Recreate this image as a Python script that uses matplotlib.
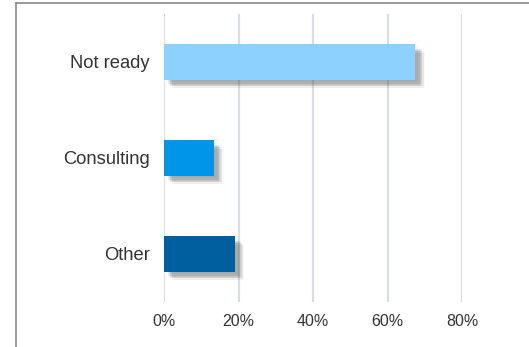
import matplotlib
matplotlib.use("Agg")
import matplotlib.pyplot as plt
from matplotlib import patheffects as pe
from matplotlib.lines import Line2D

categories = ["Not ready", "Consulting", "Other"]
values = [67.5, 13.4, 19.0]
colors = ["#8CD1FF", "#0095E9", "#005F9E"]
xticks = [0, 20, 40, 60, 80]
xtick_labels = ["0%", "20%", "40%", "60%", "80%"]

W, H, DPI = 529, 347, 100
fig = plt.figure(figsize=(W / DPI, H / DPI), dpi=DPI)
plt.rcParams["font.family"] = ["Liberation Sans", "DejaVu Sans"]

# outer frame (left and top edges)
fig.add_artist(Line2D([16 / W, 16 / W], [0, 1 - 3 / H], color="#8a8a8a", lw=1.2))
fig.add_artist(Line2D([16 / W, 1], [1 - 3 / H, 1 - 3 / H], color="#8a8a8a", lw=1.2))

left, right = 164 / W, 462 / W
top, bottom = 1 - 14 / H, 1 - 302 / H
ax = fig.add_axes([left, bottom, right - left, top - bottom])

ax.set_xlim(0, 80)
ax.set_ylim(2.5, -0.5)
for x in xticks:
    ax.axvline(x, color="#DADDE3", lw=1.6, zorder=0)

# soft drop shadow built from stacked translucent offsets
shadow = []
for dx, dy, a in [(2, -2, 0.06), (3, -3, 0.08), (4, -4, 0.10), (5, -5, 0.08),
                  (6, -5, 0.06), (3.5, -4.5, 0.08), (4.5, -3.5, 0.08),
                  (6, -6, 0.05), (7, -6, 0.04)]:
    shadow.append(pe.SimplePatchShadow(offset=(dx, dy), shadow_rgbFace="#555555", alpha=a))
shadow.append(pe.Normal())

pos = list(range(len(categories)))
bars = ax.barh(pos, values, height=0.365, color=colors, zorder=2)
for b in bars:
    b.set_path_effects(shadow)

ax.set_yticks(pos)
ax.set_yticklabels(categories, fontsize=13.2, color="#333333")
ax.set_xticks(xticks)
ax.set_xticklabels(xtick_labels, fontsize=11.5, color="#333333")
ax.tick_params(axis="y", length=0, pad=10)
ax.tick_params(axis="x", length=0, pad=9)
for s in ax.spines.values():
    s.set_visible(False)

fig.savefig("out.png", dpi=DPI, facecolor="white")
